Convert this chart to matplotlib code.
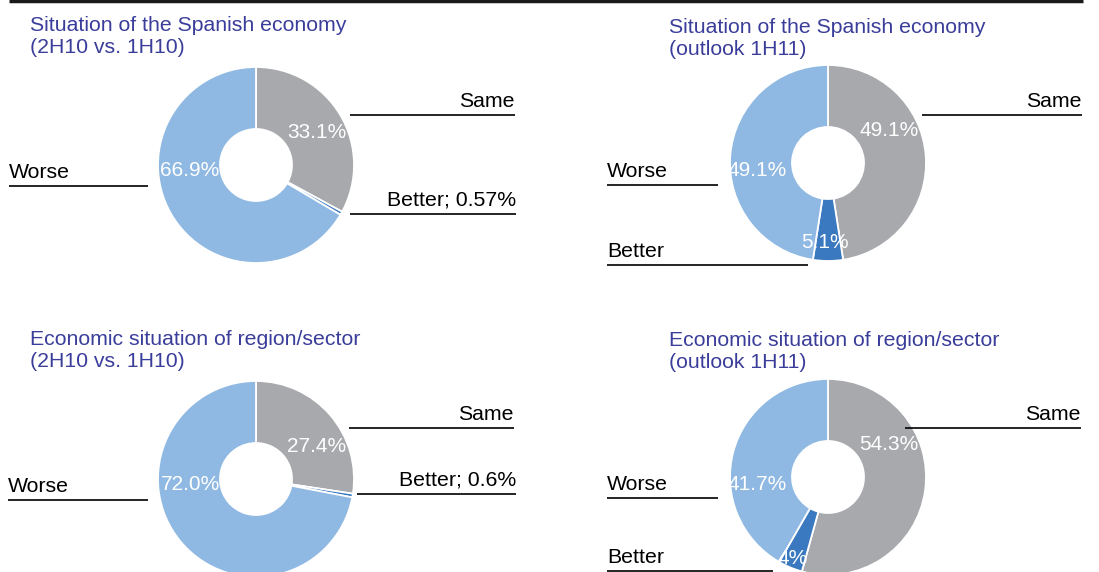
import matplotlib
matplotlib.use("Agg")
import matplotlib.pyplot as plt

plt.rcParams["font.family"] = ["Liberation Sans", "DejaVu Sans"]

W, H = 1099, 572

titles = [
    "Situation of the Spanish economy\n(2H10 vs. 1H10)",
    "Situation of the Spanish economy\n(outlook 1H11)",
    "Economic situation of region/sector\n(2H10 vs. 1H10)",
    "Economic situation of region/sector\n(outlook 1H11)",
]
categories = ["Same", "Better", "Worse"]
# survey shares in %, kept as text so the printed labels keep their decimals
same = ["33.1", "49.1", "27.4", "54.3"]
better = ["0.57", "5.1", "0.6", "4"]
worse = ["66.9", "49.1", "72.0", "41.7"]

COLORS = ["#a7a9ac", "#3a78c0", "#8fb9e2"]
TITLE_COLOR = "#3a3d9a"

# layout in pixels (y measured from the top)
centers = [(256, 165), (828, 163), (256, 479), (828, 477)]
title_pos = [(30, 16), (669, 18), (30, 330), (669, 331)]
R_OUT, R_IN = 98, 36

# white value labels inside the ring: offset from centre, None = shown outside
value_offsets = [
    [(61, -32), None, (-66, 6)],
    [(61, -32), (-3, 79), (-71, 7)],
    [(61, -33), None, (-66, 5)],
    [(61, -32), (-35, 81), (-71, 7)],
]
# category labels: (x0, x1, line y, text side)
leaders = [
    [(350, 515, 115, "right"), (350, 516, 214, "right"), (9, 148, 186, "left")],
    [(922, 1082, 115, "right"), (607, 808, 265, "left"), (607, 718, 185, "left")],
    [(349, 514, 428, "right"), (357, 516, 494, "right"), (8, 148, 500, "left")],
    [(905, 1081, 428, "right"), (607, 773, 571, "left"), (607, 718, 498, "left")],
]


def fy(y):
    return H - y


fig = plt.figure(figsize=(W / 100, H / 100), dpi=100)
ax = fig.add_axes([0, 0, 1, 1])

for i in range(4):
    vals = [float(same[i]), float(better[i]), float(worse[i])]
    texts = [same[i], better[i], worse[i]]
    cx, cy = centers[i]
    ax.pie(vals, colors=COLORS, startangle=90, counterclock=False,
           radius=R_OUT, center=(cx, fy(cy)),
           wedgeprops=dict(width=R_OUT - R_IN, edgecolor="white", linewidth=1.3))

    for j, off in enumerate(value_offsets[i]):
        if off is None:
            continue
        ax.text(cx + off[0], fy(cy + off[1]), texts[j] + "%", color="white",
                fontsize=15, ha="center", va="center")

    for j, (x0, x1, ly, side) in enumerate(leaders[i]):
        ax.plot([x0, x1], [fy(ly), fy(ly)], color="black", lw=1.2,
                solid_capstyle="butt")
        label = categories[j]
        # value not printed inside the ring goes next to the name
        if value_offsets[i][j] is None:
            label = f"{label}; {texts[j]}%"
        tx = x1 if side == "right" else x0
        ax.text(tx, fy(ly - 8), label, fontsize=15.3, ha=side, va="baseline",
                color="black")

    tx, ty = title_pos[i]
    ax.text(tx, fy(ty), titles[i], fontsize=15.3, color=TITLE_COLOR,
            ha="left", va="top", linespacing=1.2)

# rule across the top
ax.plot([9, 1083], [fy(1), fy(1)], color="#1a1a1a", lw=2.5, solid_capstyle="butt")

ax.set_xlim(0, W)
ax.set_ylim(0, H)
ax.set_aspect("auto")
ax.axis("off")

fig.savefig("out.png", dpi=100, facecolor="white")
